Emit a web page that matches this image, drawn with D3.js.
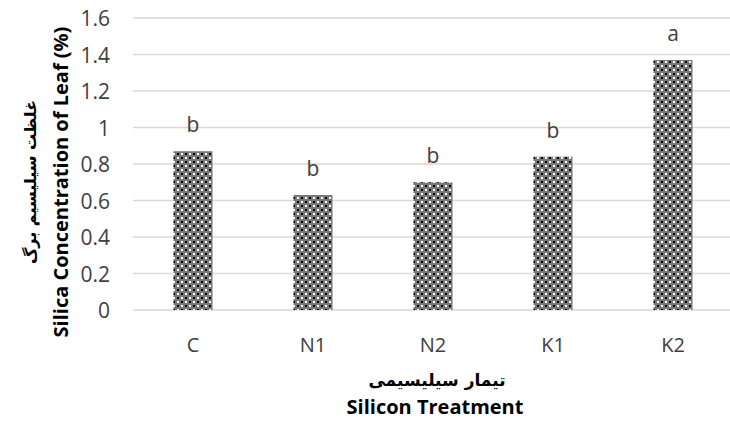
<!DOCTYPE html>
<html><head><meta charset="utf-8">
<script src="https://cdn.jsdelivr.net/npm/d3@7"></script>
<style>body{margin:0;background:#fff}svg{display:block}</style>
</head><body>
<svg id="c" width="730" height="421"></svg>
<script>
const categories = ["C","N1","N2","K1","K2"];
const values = [0.87,0.63,0.70,0.84,1.37];
const letters = ["b","b","b","b","a"];
const yTicks = [0,0.2,0.4,0.6,0.8,1,1.2,1.4,1.6];
const yTitleFa = "غلظت سیلیسیم برگ";
const yTitleEn = "Silica Concentration of Leaf (%)";
const xTitleFa = "تیمار سیلیسیمی";
const xTitleEn = "Silicon Treatment";

const svg = d3.select("#c");
const font = "'Open Sans','DejaVu Sans',sans-serif";
const L = 133, R = 733, T = 18, B = 310;
const x = d3.scaleBand().domain(categories).range([L, R]).paddingInner(0.675).paddingOuter(0.3375);
const y = d3.scaleLinear().domain([0,1.6]).range([B, T]);

const defs = svg.append("defs");
const p = defs.append("pattern").attr("id","pat").attr("width",8).attr("height",8).attr("patternUnits","userSpaceOnUse");
p.append("rect").attr("width",8).attr("height",8).attr("fill","#777");
p.append("rect").attr("x",1).attr("y",1).attr("width",2).attr("height",2).attr("fill","#000");
p.append("rect").attr("x",5).attr("y",1).attr("width",2).attr("height",2).attr("fill","#fff");
p.append("rect").attr("x",1).attr("y",5).attr("width",2).attr("height",2).attr("fill","#fff");
p.append("rect").attr("x",5).attr("y",5).attr("width",2).attr("height",2).attr("fill","#000");

// grid
svg.append("g").selectAll("line").data(yTicks).join("line")
  .attr("x1", L).attr("x2", 730).attr("y1", d=>y(d)).attr("y2", d=>y(d))
  .attr("stroke","#d9d9d9").attr("stroke-width",1.5);

// y axis labels
const yAxis = d3.axisLeft(y).tickValues(yTicks).tickSize(0).tickPadding(0).tickFormat(d3.format("~g"));
const ya = svg.append("g").attr("transform",`translate(110,0)`).call(yAxis);
ya.select(".domain").remove();
ya.selectAll("text").attr("font-family",font).attr("font-size",21).attr("fill","#404040").attr("dy","0.36em");

// x axis labels
const xAxis = d3.axisBottom(x).tickSize(0).tickPadding(0);
const xa = svg.append("g").attr("transform",`translate(0,352)`).call(xAxis);
xa.select(".domain").remove();
xa.selectAll("text").attr("font-family",font).attr("font-size",20).attr("fill","#404040").attr("dy","0");

// bars
svg.append("g").selectAll("rect").data(values).join("rect")
  .attr("x",(d,i)=>x(categories[i])).attr("width",x.bandwidth())
  .attr("y",d=>y(d)).attr("height",d=>B-y(d)).attr("fill","url(#pat)");

// letters
svg.append("g").selectAll("text").data(values).join("text")
  .attr("x",(d,i)=>x(categories[i])+x.bandwidth()/2).attr("y",d=>y(d)-19)
  .attr("text-anchor","middle").attr("font-family",font).attr("font-size",21).attr("fill","#404040")
  .text((d,i)=>letters[i]);

// y title
const yt = svg.append("g").attr("transform","translate(0,182) rotate(-90)");
yt.append("text").attr("x",0).attr("y",36).attr("text-anchor","middle").attr("font-family","'DejaVu Sans',sans-serif").attr("font-weight","bold").attr("font-size",16).attr("fill","#000").attr("direction","rtl").text(yTitleFa);
yt.append("text").attr("x",0).attr("y",68).attr("text-anchor","middle").attr("font-family",font).attr("font-weight","bold").attr("font-size",20).attr("fill","#000").text(yTitleEn);

// x title
svg.append("text").attr("x",437).attr("y",386).attr("text-anchor","middle").attr("font-family","'DejaVu Sans',sans-serif").attr("font-weight","bold").attr("font-size",17).attr("direction","rtl").text(xTitleFa);
svg.append("text").attr("x",435).attr("y",414).attr("text-anchor","middle").attr("font-family",font).attr("font-weight","bold").attr("font-size",20).text(xTitleEn);
</script>
</body></html>
